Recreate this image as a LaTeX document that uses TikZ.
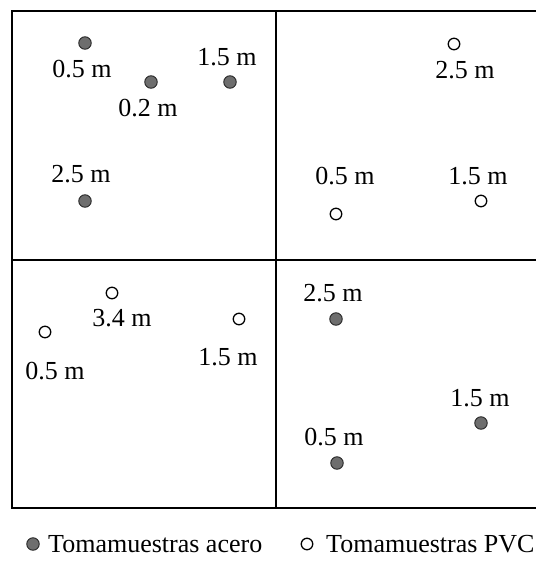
\documentclass[tikz,border=0pt]{standalone}
\usepackage{fontspec}
\setmainfont{Liberation Serif}
\usepackage{tikz}
\usetikzlibrary{calc}
\usepackage{xcolor}
\definecolor{acero}{HTML}{6E6E6E}

\begin{document}
\begin{tikzpicture}[x=1pt, y=-1pt,
  acerodot/.style={circle, fill=acero, draw=black!85, line width=0.9pt, minimum size=12.5pt, inner sep=0},
  pvcdot/.style={circle, draw=black, fill=white, line width=1.3pt, minimum size=11.5pt, inner sep=0},
  lbl/.style={font=\fontsize{26}{30}\selectfont, inner sep=0}]
  \useasboundingbox (0,0) rectangle (536,563);
  \clip (0,0) rectangle (536,563);
  % parcela dividida en cuatro cuadrantes
  \draw[line width=2pt] (12,11) rectangle (545,508);
  \draw[line width=2pt] (276,11) -- (276,508);
  \draw[line width=2pt] (12,260) -- (545,260);
  % cuadrante superior izquierdo: acero
  \node[acerodot] (a1) at (85,43) {};
  \node[lbl] (la1) at (82,69) {0.5 m};
  \node[acerodot] (a2) at (151,82) {};
  \node[lbl] (la2) at (148,108) {0.2 m};
  \node[acerodot] (a3) at (230,82) {};
  \node[lbl] (la3) at (227,57) {1.5 m};
  \node[acerodot] (a4) at (85,201) {};
  \node[lbl] (la4) at (81,174) {2.5 m};
  % cuadrante superior derecho: PVC
  \node[pvcdot] (p1) at (454,44) {};
  \node[lbl] (lp1) at (465,70) {2.5 m};
  \node[pvcdot] (p2) at (336,214) {};
  \node[lbl] (lp2) at (345,176) {0.5 m};
  \node[pvcdot] (p3) at (481,201) {};
  \node[lbl] (lp3) at (478,176) {1.5 m};
  % cuadrante inferior izquierdo: PVC
  \node[pvcdot] (p4) at (112,293) {};
  \node[lbl] (lp4) at (122,318) {3.4 m};
  \node[pvcdot] (p5) at (45,332) {};
  \node[lbl] (lp5) at (55,371) {0.5 m};
  \node[pvcdot] (p6) at (239,319) {};
  \node[lbl] (lp6) at (228,357) {1.5 m};
  % cuadrante inferior derecho: acero
  \node[acerodot] (a5) at (336,319) {};
  \node[lbl] (la5) at (333,293) {2.5 m};
  \node[acerodot] (a6) at (481,423) {};
  \node[lbl] (la6) at (480,398) {1.5 m};
  \node[acerodot] (a7) at (337,463) {};
  \node[lbl] (la7) at (334,437) {0.5 m};
  % leyenda
  \node[acerodot] (leyA) at (33,544) {};
  \node[lbl, anchor=west] (txtA) at (48,544) {Tomamuestras acero};
  \node[pvcdot] (leyP) at (307,544) {};
  \node[lbl, anchor=west] (txtP) at (326,544) {Tomamuestras PVC};
\end{tikzpicture}
\end{document}
